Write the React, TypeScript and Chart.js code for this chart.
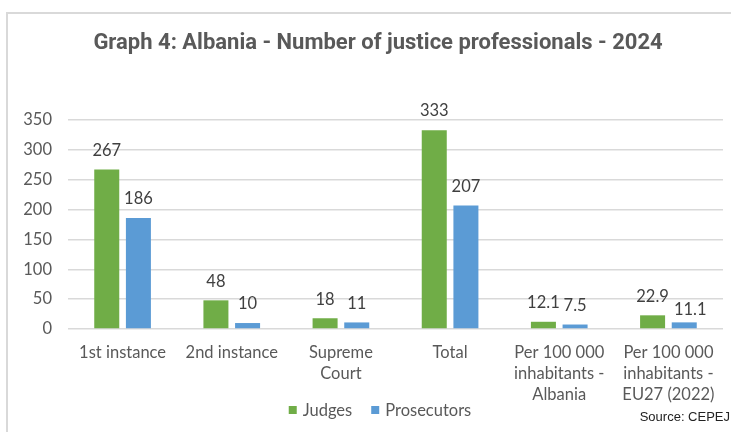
import React, { useEffect, useRef } from "react";
import { Chart, registerables } from "chart.js";

Chart.register(...registerables);

const TITLE = "Graph 4: Albania - Number of justice professionals - 2024";
const SOURCE = "Source: CEPEJ";
const CATEGORIES: string[][] = [
  ["1st instance"],
  ["2nd instance"],
  ["Supreme", "Court"],
  ["Total"],
  ["Per 100 000", "inhabitants -", "Albania"],
  ["Per 100 000", "inhabitants -", "EU27 (2022)"],
];
const JUDGES = [267, 48, 18, 333, 12.1, 22.9];
const PROSECUTORS = [186, 10, 11, 207, 7.5, 11.1];
const Y_MIN = 0;
const Y_MAX = 350;
const Y_STEP = 50;

const BODY_FONT = "Lato, 'Noto Sans', sans-serif";
const BODY_SIZE = 16.5;
const CENTER_X = 378;

const framePlugin = {
  id: "frame",
  beforeDraw(chart: any) {
    const ctx = chart.ctx;
    ctx.save();
    ctx.fillStyle = "#ffffff";
    ctx.fillRect(0, 0, chart.width, chart.height);
    ctx.strokeStyle = "#d9d9d9";
    ctx.lineWidth = 2;
    ctx.strokeRect(7, 13, chart.width + 20, chart.height + 20);
    ctx.restore();
  },
  afterDraw(chart: any) {
    const ctx = chart.ctx;
    ctx.save();
    // title
    ctx.font = "bold 22px Roboto, sans-serif";
    ctx.fillStyle = "#595959";
    ctx.textAlign = "center";
    ctx.textBaseline = "middle";
    ctx.fillText(TITLE, CENTER_X, 43.5);
    // legend
    ctx.font = `${BODY_SIZE}px ${BODY_FONT}`;
    ctx.textBaseline = "middle";
    ctx.textAlign = "left";
    const items = chart.data.datasets.map((ds: any) => ({
      text: ds.label,
      color: ds.backgroundColor,
      w: ctx.measureText(ds.label).width,
    }));
    const box = 8;
    const boxGap = 6;
    const itemGap = 19;
    let total = 0;
    items.forEach((it: any, i: number) => {
      total += box + boxGap + it.w + (i > 0 ? itemGap : 0);
    });
    let x = 380 - total / 2;
    const y = 410;
    items.forEach((it: any, i: number) => {
      if (i > 0) x += itemGap;
      ctx.fillStyle = it.color;
      ctx.fillRect(x, y - box / 2, box, box);
      x += box + boxGap;
      ctx.fillStyle = "#595959";
      ctx.fillText(it.text, x, y + 1);
      x += it.w;
    });
    // source
    ctx.font = "13px 'Liberation Sans Narrow', 'Liberation Sans', Arial, sans-serif";
    ctx.fillStyle = "#222222";
    ctx.textAlign = "right";
    ctx.textBaseline = "middle";
    ctx.fillText(SOURCE, 730, 417);
    ctx.restore();
  },
};

const valueLabelPlugin = {
  id: "valueLabels",
  afterDatasetsDraw(chart: any) {
    const ctx = chart.ctx;
    ctx.save();
    ctx.font = `${BODY_SIZE}px ${BODY_FONT}`;
    ctx.fillStyle = "#404040";
    ctx.textAlign = "center";
    ctx.textBaseline = "middle";
    const n = chart.data.labels.length;
    for (let j = 0; j < n; j++) {
      let prevRight = -Infinity;
      chart.data.datasets.forEach((ds: any, i: number) => {
        const bar: any = chart.getDatasetMeta(i).data[j];
        const text = String(ds.data[j]);
        const w = ctx.measureText(text).width;
        let cx = bar.x;
        let cy = bar.y - 19;
        if (cx - w / 2 < prevRight - 0.5) {
          // resolve label collision: nudge right and slightly down
          cx = prevRight + 5 + w / 2;
          cy = bar.y - 13;
        }
        ctx.fillText(text, cx, cy);
        prevRight = cx + w / 2;
      });
    }
    ctx.restore();
  },
};

export default function App() {
  const ref = useRef<HTMLCanvasElement>(null);

  useEffect(() => {
    document.body.style.margin = "0";
    const canvas = ref.current;
    if (!canvas) return;
    const chart = new Chart(canvas, {
      type: "bar",
      data: {
        labels: CATEGORIES,
        datasets: [
          {
            label: "Judges",
            data: JUDGES,
            backgroundColor: "#70AD47",
            categoryPercentage: 0.58,
            barPercentage: 0.79,
          },
          {
            label: "Prosecutors",
            data: PROSECUTORS,
            backgroundColor: "#5B9BD5",
            categoryPercentage: 0.58,
            barPercentage: 0.79,
          },
        ],
      },
      options: {
        responsive: false,
        animation: false,
        layout: { padding: { left: 0, right: 8, top: 120, bottom: 22 } },
        plugins: {
          title: { display: false },
          legend: { display: false },
          tooltip: { enabled: false },
        },
        scales: {
          x: {
            grid: { display: false, drawTicks: false },
            border: { display: false },
            ticks: {
              color: "#595959",
              padding: 13,
              maxRotation: 0,
              autoSkip: false,
              font: { family: BODY_FONT, size: BODY_SIZE, lineHeight: 1.27 },
            },
            afterFit: (scale: any) => {
              scale.height = 81;
            },
          },
          y: {
            min: Y_MIN,
            max: Y_MAX,
            grid: { color: "#d9d9d9", lineWidth: 1.5, drawTicks: false },
            border: { display: false },
            ticks: {
              stepSize: Y_STEP,
              color: "#595959",
              padding: 16,
              font: { family: BODY_FONT, size: BODY_SIZE },
            },
            afterFit: (scale: any) => {
              scale.width = 68;
            },
          },
        },
      },
      plugins: [framePlugin, valueLabelPlugin],
    });
    return () => chart.destroy();
  }, []);

  return (
    <div style={{ width: 731, height: 432 }}>
      <canvas ref={ref} width={731} height={432} />
    </div>
  );
}
